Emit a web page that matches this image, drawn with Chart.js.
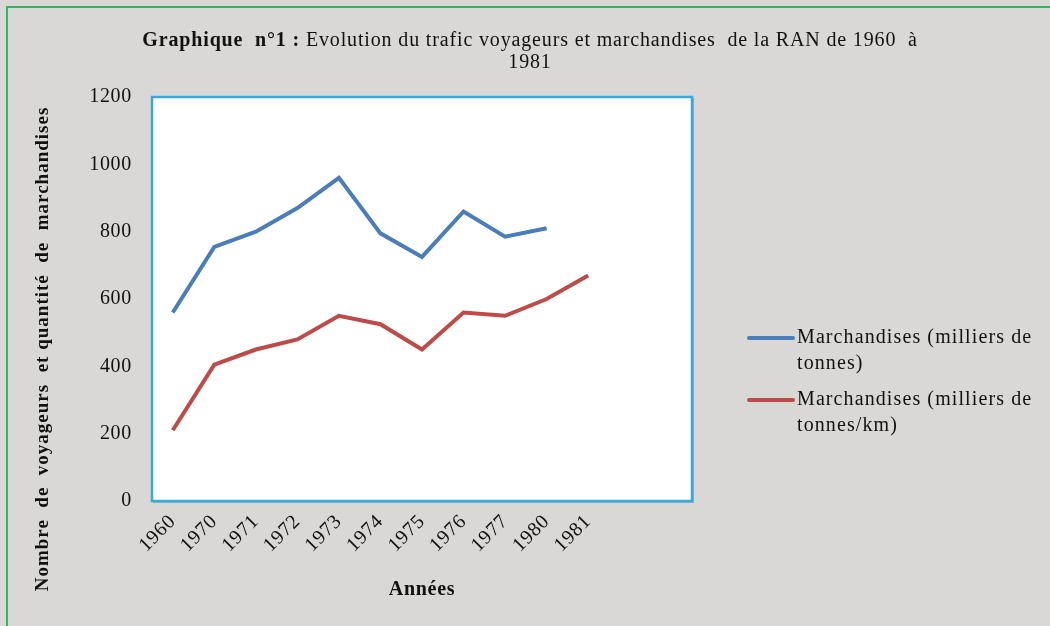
<!DOCTYPE html>
<html>
<head>
<meta charset="utf-8">
<script src="https://cdn.jsdelivr.net/npm/chart.js@4.4.1/dist/chart.umd.min.js"></script>
<style>
html,body{margin:0;padding:0;background:#d9d8d6;}
canvas{display:block;}
</style>
</head>
<body>
<canvas id="c" width="1050" height="626"></canvas>
<script>
const categories = ['1960','1970','1971','1972','1973','1974','1975','1976','1977','1980','1981','',''];
const seriesTonnes = [560, 755, 800, 870, 960, 795, 725, 860, 785, 810, null, null, null];
const seriesTonnesKm = [210, 405, 450, 480, 550, 525, 450, 560, 550, 600, 670, null, null];
const seriesNames = ['Marchandises (milliers de tonnes)', 'Marchandises (milliers de tonnes/km)'];
const legendLines = [['Marchandises (milliers de', 'tonnes)'], ['Marchandises (milliers de', 'tonnes/km)']];
const yTicks = [0, 200, 400, 600, 800, 1000, 1200];
const titleBold = 'Graphique  n°1 :';
const titleRest = ' Evolution du trafic voyageurs et marchandises  de la RAN de 1960  à';
const titleLine2 = '1981';
const yTitle = 'Nombre  de  voyageurs  et quantité  de  marchandises';
const xTitle = 'Années';

const SERIF = "'Liberation Serif', 'Times New Roman', serif";
const colors = ['#4a7ebb', '#be4b48'];

const decor = {
  id: 'decor',
  beforeDraw(chart) {
    const ctx = chart.ctx, a = chart.chartArea;
    ctx.save();
    ctx.fillStyle = '#d9d8d6';
    ctx.fillRect(0, 0, chart.width, chart.height);
    ctx.strokeStyle = '#2fb75a';
    ctx.lineWidth = 2;
    ctx.beginPath();
    ctx.moveTo(7, chart.height); ctx.lineTo(7, 7); ctx.lineTo(chart.width, 7);
    ctx.stroke();
    // plot area shadow + white fill
    ctx.fillStyle = '#a8a8a8';
    ctx.fillRect(a.left + 1, a.top + 1, a.right - a.left + 1, a.bottom - a.top + 1);
    ctx.fillStyle = '#ffffff';
    ctx.fillRect(a.left, a.top, a.right - a.left, a.bottom - a.top);
    // title
    ctx.fillStyle = '#111';
    ctx.textBaseline = 'middle';
    ctx.letterSpacing = '0.85px';
    ctx.font = 'bold 20px ' + SERIF;
    const wb = ctx.measureText(titleBold).width;
    ctx.font = '20px ' + SERIF;
    const wr = ctx.measureText(titleRest).width;
    const cx = 530;
    let x0 = cx - (wb + wr) / 2;
    ctx.textAlign = 'left';
    ctx.font = 'bold 20px ' + SERIF;
    ctx.fillText(titleBold, x0, 41);
    ctx.font = '20px ' + SERIF;
    ctx.fillText(titleRest, x0 + wb, 41);
    ctx.textAlign = 'center';
    ctx.fillText(titleLine2, cx, 63);
    // y title
    ctx.save();
    ctx.translate(43, 349);
    ctx.rotate(-Math.PI / 2);
    ctx.letterSpacing = '1px';
    ctx.font = 'bold 19px ' + SERIF;
    ctx.textAlign = 'center';
    ctx.fillText(yTitle, 0, 0);
    ctx.restore();
    // legend
    chart.data.datasets.forEach((ds, i) => {
      const ly = [338, 400][i];
      ctx.strokeStyle = ds.borderColor;
      ctx.lineWidth = 4;
      ctx.lineCap = 'round';
      ctx.beginPath();
      ctx.moveTo(749, ly); ctx.lineTo(793, ly);
      ctx.stroke();
      ctx.fillStyle = '#111';
      ctx.letterSpacing = '1.1px';
      ctx.font = '20px ' + SERIF;
      ctx.textAlign = 'left';
      legendLines[i].forEach((t, k) => ctx.fillText(t, 797, ly + k * 26));
    });
    ctx.restore();
    // spacing for the library's own tick and axis title text
    ctx.letterSpacing = '0.7px';
  },
  afterDatasetsDraw(chart) {
    const ctx = chart.ctx, a = chart.chartArea;
    ctx.save();
    ctx.strokeStyle = '#35aade';
    ctx.lineWidth = 2.5;
    ctx.strokeRect(a.left, a.top, a.right - a.left, a.bottom - a.top);
    ctx.restore();
  }
};

new Chart(document.getElementById('c'), {
  type: 'line',
  data: {
    labels: categories,
    datasets: [
      { label: seriesNames[0], data: seriesTonnes, borderColor: colors[0], backgroundColor: colors[0], borderWidth: 4, pointRadius: 0, tension: 0, spanGaps: false },
      { label: seriesNames[1], data: seriesTonnesKm, borderColor: colors[1], backgroundColor: colors[1], borderWidth: 4, pointRadius: 0, tension: 0, spanGaps: false }
    ]
  },
  options: {
    responsive: false,
    animation: false,
    devicePixelRatio: 1,
    layout: { padding: { left: 0, top: 97, right: 358, bottom: 0 } },
    plugins: { legend: { display: false }, title: { display: false }, tooltip: { enabled: false } },
    scales: {
      x: {
        type: 'category',
        offset: true,
        grid: { display: false, drawTicks: false },
        border: { display: false },
        ticks: { minRotation: 45, maxRotation: 45, autoSkip: false, padding: 9, color: '#111', font: { family: SERIF, size: 20 } },
        title: { display: true, text: xTitle, color: '#111', font: { family: SERIF, size: 20, weight: 'bold' }, padding: { top: 0, bottom: 24 } },
        afterFit(s) { s.height = 125; }
      },
      y: {
        min: 0, max: 1200,
        afterBuildTicks(s) { s.ticks = yTicks.map(v => ({ value: v })); },
        grid: { display: false, drawTicks: false },
        border: { display: false },
        ticks: { padding: 20, color: '#111', font: { family: SERIF, size: 20 }, callback: v => String(v) },
        afterFit(s) { s.width = 152; }
      }
    }
  },
  plugins: [decor]
});
</script>
</body>
</html>
